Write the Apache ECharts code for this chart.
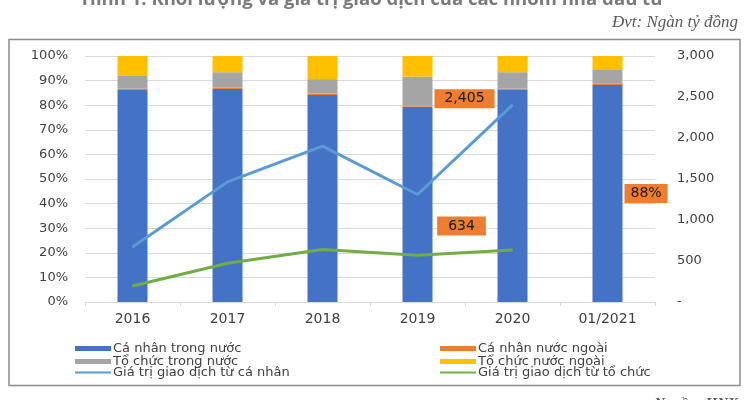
<!DOCTYPE html>
<html>
<head>
<meta charset="utf-8">
<script src="https://cdn.jsdelivr.net/npm/echarts@6/dist/echarts.min.js"></script>
<style>html,body{margin:0;padding:0;background:#fff}#c{width:750px;height:400px}</style>
</head>
<body>
<div id="c"></div>
<script>
// ---- data ----
var categories = ['2016', '2017', '2018', '2019', '2020', '01/2021'];
var caNhanTrongNuoc = [0.862, 0.866, 0.841, 0.794, 0.862, 0.882];
var caNhanNuocNgoai = [0.005, 0.006, 0.006, 0.004, 0.005, 0.005];
var toChucTrongNuoc = [0.052, 0.062, 0.059, 0.118, 0.067, 0.056];
var toChucNuocNgoai = [0.081, 0.066, 0.094, 0.084, 0.066, 0.057];
var gtgdCaNhan = [672, 1465, 1901, 1311, 2405];
var gtgdToChuc = [195, 472, 640, 570, 634];
var seriesNames = ['Cá nhân trong nước', 'Cá nhân nước ngoài', 'Tổ chức trong nước', 'Tổ chức nước ngoài',
  'Giá trị giao dịch từ cá nhân', 'Giá trị giao dịch từ tổ chức'];
var titleText = 'Hình 1: Khối lượng và giá trị giao dịch của các nhóm nhà đầu tư';
var unitText = 'Đvt: Ngàn tỷ đồng';
var sourceText = 'Nguồn: HNX';

var FONT = 'DejaVu Sans';
var TXT = '#404040';
var labelBox = {
  show: true, backgroundColor: '#ED7D31', color: '#1a1a1a',
  fontFamily: FONT, fontSize: 14, padding: [3, 10, 2, 10]
};

function withLabel(arr, idx, lbl) {
  return arr.map(function (v, i) {
    return i === idx ? { value: v, label: lbl } : v;
  });
}

var blueBarData = withLabel(caNhanTrongNuoc, 5, Object.assign({}, labelBox, {
  position: 'right', distance: 2, padding: [3, 6, 2, 6],
  formatter: function (p) { return Math.round(p.value * 100) + '%'; }
}));
var blueLineData = withLabel(gtgdCaNhan, 4, Object.assign({}, labelBox, {
  position: 'inside', offset: [-48, -6], formatter: function (p) { return p.value.toLocaleString('en-US'); }
}));
var greenLineData = withLabel(gtgdToChuc, 4, Object.assign({}, labelBox, {
  position: 'inside', offset: [-51, -24], padding: [3, 11, 2, 11],
  formatter: function (p) { return p.value.toLocaleString('en-US'); }
}));

var chart = echarts.init(document.getElementById('c'), null, { renderer: 'canvas' });

function legendCfg(names, left, top, iconH) {
  return {
    data: names.map(function (n) { return { name: n, icon: 'rect' }; }),
    orient: 'vertical', left: left, top: top,
    itemWidth: 36, itemHeight: iconH, itemGap: 0, padding: 0,
    textStyle: { fontFamily: FONT, fontSize: 13, color: TXT, lineHeight: 12, padding: [0, 0, 0, -3] },
    selectedMode: false
  };
}

var option = {
  animation: false,
  backgroundColor: '#fff',
  graphic: [
    { type: 'rect', shape: { x: 9, y: 39.5, width: 731, height: 346 }, style: { fill: 'none', stroke: '#8c8c8c', lineWidth: 1.5 }, silent: true, z: -1 },
    { type: 'text', x: 373, y: 9, style: { text: titleText, fontFamily: 'Open Sans', fontWeight: 'bold', fontSize: 18.5, fill: '#7a7a7a', align: 'center', verticalAlign: 'bottom' } },
    { type: 'text', right: 12, top: 14, style: { text: unitText, fontFamily: 'Liberation Serif', fontStyle: 'italic', fontSize: 17, fill: '#595959' } },
    { type: 'text', right: 12, top: 397, style: { text: sourceText, fontFamily: 'Liberation Serif', fontStyle: 'italic', fontWeight: 'bold', fontSize: 15, fill: '#595959' } }
  ],
  grid: { left: 85, right: 95, top: 56, bottom: 98, containLabel: false },
  legend: [
    legendCfg([seriesNames[0], seriesNames[2]], 75, 342, 5),
    legendCfg([seriesNames[4]], 75, 366, 2),
    legendCfg([seriesNames[1], seriesNames[3]], 440, 342, 5),
    legendCfg([seriesNames[5]], 440, 366, 2)
  ],
  xAxis: {
    type: 'category', data: categories,
    axisLine: { show: true, lineStyle: { color: '#d9d9d9', width: 1 } },
    axisTick: { show: true, length: 4, lineStyle: { color: '#d9d9d9' } },
    axisLabel: { fontFamily: FONT, fontSize: 14, color: TXT, margin: 10 }
  },
  yAxis: [
    {
      type: 'value', min: 0, max: 1, interval: 0.1,
      axisLine: { show: false }, axisTick: { show: false },
      splitLine: { lineStyle: { color: '#d9d9d9', width: 1 } },
      axisLabel: { fontFamily: FONT, fontSize: 13, color: TXT, margin: 17,
        formatter: function (v) { return Math.round(v * 100) + '%'; } }
    },
    {
      type: 'value', min: 0, max: 3000, interval: 500, position: 'right',
      axisLine: { show: false }, axisTick: { show: false }, splitLine: { show: false },
      axisLabel: { fontFamily: FONT, fontSize: 13, color: TXT, margin: 22,
        formatter: function (v) { return v === 0 ? '-' : v.toLocaleString('en-US'); } }
    }
  ],
  series: [
    { name: seriesNames[0], type: 'bar', stack: 's', barWidth: 30, yAxisIndex: 0, itemStyle: { color: '#4472C4' }, data: blueBarData },
    { name: seriesNames[1], type: 'bar', stack: 's', barWidth: 30, yAxisIndex: 0, itemStyle: { color: '#ED7D31' }, data: caNhanNuocNgoai },
    { name: seriesNames[2], type: 'bar', stack: 's', barWidth: 30, yAxisIndex: 0, itemStyle: { color: '#A5A5A5' }, data: toChucTrongNuoc },
    { name: seriesNames[3], type: 'bar', stack: 's', barWidth: 30, yAxisIndex: 0, itemStyle: { color: '#FFC000' }, data: toChucNuocNgoai },
    { name: seriesNames[4], type: 'line', yAxisIndex: 1, symbol: 'circle', symbolSize: 1, showSymbol: true,
      lineStyle: { color: '#5B9BD5', width: 3 }, itemStyle: { color: '#5B9BD5' }, data: blueLineData, z: 5 },
    { name: seriesNames[5], type: 'line', yAxisIndex: 1, symbol: 'circle', symbolSize: 1, showSymbol: true,
      lineStyle: { color: '#70AD47', width: 3 }, itemStyle: { color: '#70AD47' }, data: greenLineData, z: 5 }
  ]
};
chart.setOption(option);
</script>
</body>
</html>
